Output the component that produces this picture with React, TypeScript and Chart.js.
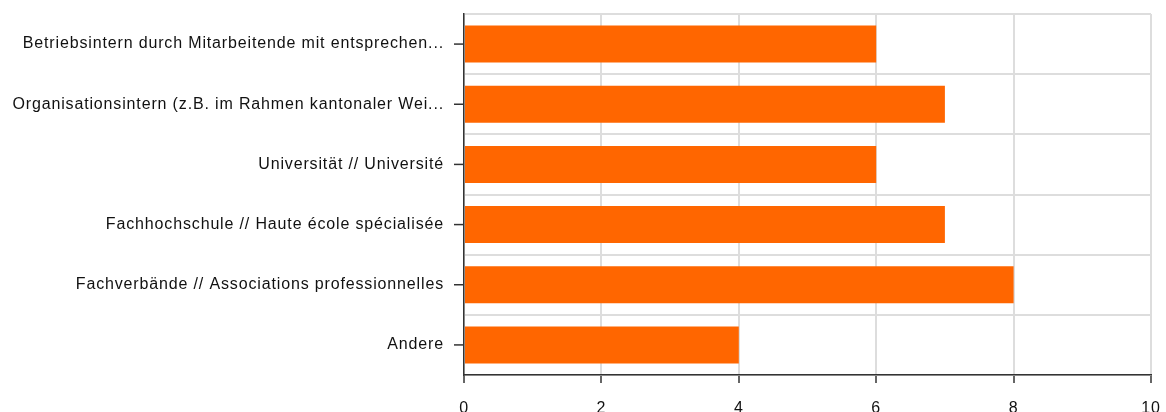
import React, { useEffect, useRef } from "react";
import { Chart, registerables } from "chart.js";

Chart.register(...registerables);

const categories: string[] = [
  "Betriebsintern durch Mitarbeitende mit entsprechen...",
  "Organisationsintern (z.B. im Rahmen kantonaler Wei...",
  "Universität // Université",
  "Fachhochschule // Haute école spécialisée",
  "Fachverbände // Associations professionnelles",
  "Andere",
];
const values: number[] = [6, 7, 6, 7, 8, 4];
const xTicks: number[] = [0, 2, 4, 6, 8, 10];

const LETTER_SPACING = "0.85px";

const spacing = {
  id: "spacing",
  beforeLayout(chart: any) {
    chart.ctx.letterSpacing = LETTER_SPACING;
  },
  beforeDraw(chart: any) {
    chart.ctx.letterSpacing = LETTER_SPACING;
  },
};

const yTickMarks = {
  id: "yTickMarks",
  afterDatasetsDraw(chart: any) {
    const y = chart.scales.y;
    const ctx = chart.ctx;
    ctx.save();
    ctx.strokeStyle = "#333333";
    ctx.lineWidth = 1.5;
    y.ticks.forEach((_t: any, i: number) => {
      const p = y.getPixelForTick(i);
      ctx.beginPath();
      ctx.moveTo(y.right - 10, p);
      ctx.lineTo(y.right, p);
      ctx.stroke();
    });
    ctx.restore();
  },
};

export default function App() {
  const ref = useRef<HTMLCanvasElement | null>(null);
  useEffect(() => {
    if (!ref.current) return;
    const font = { family: "'Liberation Sans', Arial, sans-serif", size: 16 };
    const chart = new Chart(ref.current, {
      type: "bar",
      data: {
        labels: categories,
        datasets: [
          {
            data: values,
            backgroundColor: "#ff6600",
            borderWidth: 0,
            categoryPercentage: 1,
            barPercentage: 0.615,
          },
        ],
      },
      options: {
        indexAxis: "y",
        animation: false,
        responsive: false,
        maintainAspectRatio: false,
        layout: { padding: { top: 14, right: 15, left: 0, bottom: 0 } },
        plugins: { legend: { display: false }, tooltip: { enabled: false } },
        scales: {
          x: {
            min: 0,
            max: 10,
            afterBuildTicks: (scale: any) => {
              scale.ticks = xTicks.map((v) => ({ value: v }));
            },
            afterFit: (scale: any) => {
              scale.height = 65;
              scale.paddingLeft = 0;
              scale.paddingRight = 0;
            },
            grid: {
              color: "#dddddd",
              lineWidth: 2,
              tickColor: "#333333",
              tickLength: 8,
              tickWidth: 1.5,
            },
            border: { display: true, color: "#333333", width: 1.5 },
            ticks: { color: "#111111", font, padding: 16, maxRotation: 0 },
          },
          y: {
            afterFit: (scale: any) => {
              scale.width = 464;
              scale.paddingTop = 0;
              scale.paddingBottom = 0;
            },
            grid: {
              color: "#dddddd",
              lineWidth: 2,
              drawTicks: false,
              offset: true,
            },
            border: { display: true, color: "#333333", width: 1.5 },
            ticks: { color: "#111111", font, padding: 20, autoSkip: false },
          },
        },
      },
      plugins: [spacing, yTickMarks],
    });
    return () => chart.destroy();
  }, []);
  return (
    <div style={{ position: "absolute", left: 0, top: 0, width: 1166, height: 440 }}>
      <canvas ref={ref} width={1166} height={440} style={{ width: 1166, height: 440 }} />
    </div>
  );
}
